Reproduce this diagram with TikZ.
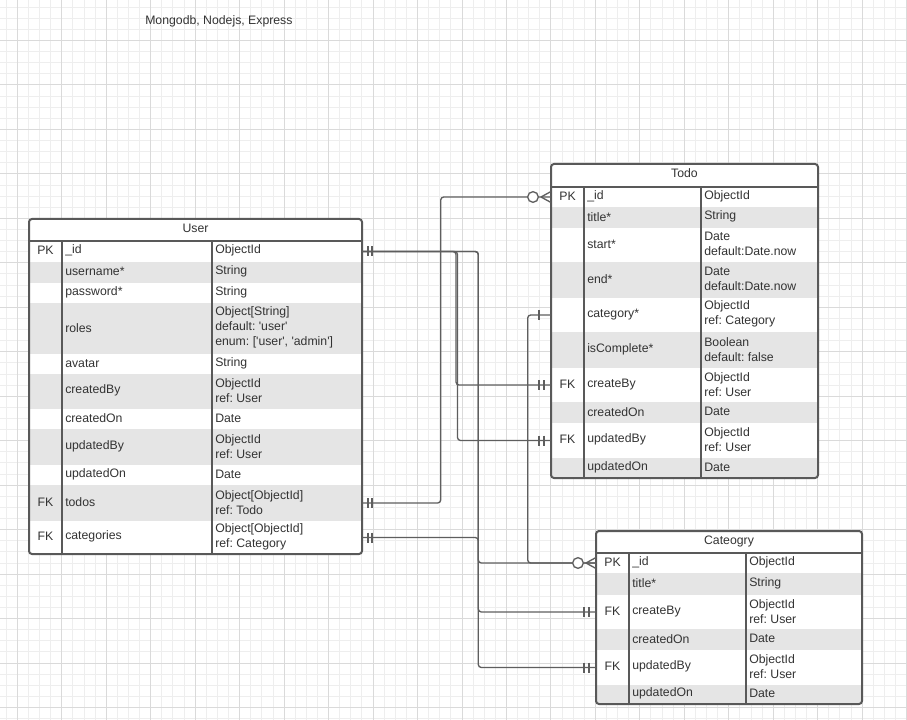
\documentclass[tikz,border=0pt]{standalone}
\usepackage{fontspec}
\setmainfont{Liberation Sans}
\frenchspacing
\usetikzlibrary{calc}

\definecolor{framegray}{HTML}{595959}
\definecolor{linkgray}{HTML}{5E5E5E}
\definecolor{rowgray}{HTML}{E5E5E5}
\definecolor{minorgrid}{HTML}{EEEEEE}
\definecolor{majorgrid}{HTML}{DADADA}
\definecolor{txtgray}{HTML}{333333}

\begin{document}
\begin{tikzpicture}[
    x=0.75pt, y=-0.75pt,
    minor grid/.style={minorgrid,line width=0.75pt},
    major grid/.style={majorgrid,line width=0.75pt},
    frame/.style={framegray,line width=1.5pt},
    row/.style={anchor=north west,inner sep=0pt,outer sep=0pt},
    cell/.style={anchor=west,inner sep=0pt,align=left,text=txtgray,yshift=0.6pt,
        font=\fontsize{9.2}{11.25}\selectfont},
    key cell/.style={cell,anchor=center},
    head/.style={cell,anchor=center},
    rel/.style={draw=linkgray,line width=1pt,rounded corners=2.25pt},
    bar/.style={linkgray,line width=1pt}
]
\useasboundingbox (0,0) rectangle (907,720);
\fill[white] (0,0) rectangle (907,720);

% Papel quadriculado
\foreach \i in {0,...,81}
    \draw[minor grid] ({6.2+11.117*\i},0) -- ++(0,720);
\foreach \j in {0,...,64}
    \draw[minor grid] (0,{7.15+11.117*\j}) -- ++(907,0);
\foreach \i in {0,...,20}
    \draw[major grid] ({17.3+44.47*\i},0) -- ++(0,720);
\foreach \j in {0,...,15}
    \draw[major grid] (0,{40.5+44.47*\j}) -- ++(907,0);

% Titulo
\node[cell] (stack) at (145,21.8) {Mongodb, Nodejs, Express};

% Tabela User
\begin{scope}
    \clip[rounded corners=2.25pt] (29,219) rectangle (362,554);
    \fill[white] (29,219) rectangle (362,554);
    \foreach \fkey/\ftop/\fbot/\fshade/\fpk/\fname/\ftype in {
        id/241/262/white/PK/\_id/ObjectId,
        username/262/283/rowgray//username*/String,
        password/283/303/white//password*/String,
        roles/303/354/rowgray//roles/{Object[String]\\default: \textquotesingle user\textquotesingle\\enum: [\textquotesingle user\textquotesingle, \textquotesingle admin\textquotesingle]},
        avatar/354/374/white//avatar/String,
        createdBy/374/409/rowgray//createdBy/ObjectId\\ref: User,
        createdOn/409/429/white//createdOn/Date,
        updatedBy/429/465/rowgray//updatedBy/ObjectId\\ref: User,
        updatedOn/465/485/white//updatedOn/Date,
        todos/485/521/rowgray/FK/todos/Object[ObjectId]\\ref: Todo,
        categories/521/554/white/FK/categories/Object[ObjectId]\\ref: Category}
    {
        \pgfmathsetmacro\fh{(\fbot-\ftop)*0.75}
        \node[row,fill=\fshade,minimum width=249.75pt,minimum height=\fh pt] (user-\fkey) at (29,\ftop) {};
        \node[key cell] (user-\fkey-pk) at ($(user-\fkey.west)+(16.5,0)$) {\fpk};
        \node[cell] (user-\fkey-name) at ($(user-\fkey.west)+(36,0)$) {\fname};
        \node[cell] (user-\fkey-type) at ($(user-\fkey.west)+(186,0)$) {\ftype};
    }
\end{scope}
\draw[frame,rounded corners=2.25pt] (29,219) rectangle (362,554);
\draw[frame] (29,241) -- (362,241) (62,241) -- (62,554) (212,241) -- (212,554);
\node[head] (user-head) at (195.5,229.1) {User};

% Tabela Todo
\begin{scope}
    \clip[rounded corners=2.25pt] (551,164) rectangle (818,478);
    \fill[white] (551,164) rectangle (818,478);
    \foreach \fkey/\ftop/\fbot/\fshade/\fpk/\fname/\ftype in {
        id/187/207/white/PK/\_id/ObjectId,
        title/207/228/rowgray//title*/String,
        start/228/262/white//start*/Date\\default:Date.now,
        end/262/298/rowgray//end*/Date\\default:Date.now,
        category/298/332/white//category*/ObjectId\\ref: Category,
        isComplete/332/368/rowgray//isComplete*/Boolean\\default: false,
        createBy/368/402/white/FK/createBy/ObjectId\\ref: User,
        createdOn/402/423/rowgray//createdOn/Date,
        updatedBy/423/458/white/FK/updatedBy/ObjectId\\ref: User,
        updatedOn/458/478/rowgray//updatedOn/Date}
    {
        \pgfmathsetmacro\fh{(\fbot-\ftop)*0.75}
        \node[row,fill=\fshade,minimum width=200.25pt,minimum height=\fh pt] (todo-\fkey) at (551,\ftop) {};
        \node[key cell] (todo-\fkey-pk) at ($(todo-\fkey.west)+(16.5,0)$) {\fpk};
        \node[cell] (todo-\fkey-name) at ($(todo-\fkey.west)+(36,0)$) {\fname};
        \node[cell] (todo-\fkey-type) at ($(todo-\fkey.west)+(153,0)$) {\ftype};
    }
\end{scope}
\draw[frame,rounded corners=2.25pt] (551,164) rectangle (818,478);
\draw[frame] (551,187) -- (818,187) (584,187) -- (584,478) (701,187) -- (701,478);
\node[head] (todo-head) at (684.5,173.8) {Todo};

% Tabela Cateogry
\begin{scope}
    \clip[rounded corners=2.25pt] (596,531) rectangle (862,704);
    \fill[white] (596,531) rectangle (862,704);
    \foreach \fkey/\ftop/\fbot/\fshade/\fpk/\fname/\ftype in {
        id/553/573/white/PK/\_id/ObjectId,
        title/573/595/rowgray//title*/String,
        createBy/595/629/white/FK/createBy/ObjectId\\ref: User,
        createdOn/629/650/rowgray//createdOn/Date,
        updatedBy/650/685/white/FK/updatedBy/ObjectId\\ref: User,
        updatedOn/685/704/rowgray//updatedOn/Date}
    {
        \pgfmathsetmacro\fh{(\fbot-\ftop)*0.75}
        \node[row,fill=\fshade,minimum width=199.5pt,minimum height=\fh pt] (cat-\fkey) at (596,\ftop) {};
        \node[key cell] (cat-\fkey-pk) at ($(cat-\fkey.west)+(16.5,0)$) {\fpk};
        \node[cell] (cat-\fkey-name) at ($(cat-\fkey.west)+(36,0)$) {\fname};
        \node[cell] (cat-\fkey-type) at ($(cat-\fkey.west)+(153,0)$) {\ftype};
    }
\end{scope}
\draw[frame,rounded corners=2.25pt] (596,531) rectangle (862,704);
\draw[frame] (596,553) -- (862,553) (629,553) -- (629,704) (746,553) -- (746,704);
\node[head] (cat-head) at (729,541.8) {Cateogry};

% Relacionamentos
\draw[rel] (user-todos.east) -- ++(78.7,0) |- (todo-id.west);
\draw[rel] (user-id.east) -- ++(94,0) |- (todo-createBy.west);
\draw[rel] (user-id.east) -- ++(95.5,0) |- (todo-updatedBy.west);
\draw[rel] (user-id.east) -- ++(116.3,0) |- (cat-createBy.west);
\draw[rel] (user-id.east) -- ++(116.3,0) |- (cat-updatedBy.west);
\draw[rel] (user-categories.east) -- ++(116.3,0) |- (cat-id.west);
\draw[rel] (todo-category.west) -- ++(-23.3,0) |- (cat-id.west);

% Cardinalidades: um e somente um
\foreach \n in {user-id,user-todos,user-categories}
    \draw[bar] ($(\n.east)+(6,-5)$) -- ++(0,10) ($(\n.east)+(10,-5)$) -- ++(0,10);
\foreach \n in {todo-createBy,todo-updatedBy,cat-createBy,cat-updatedBy}
    \draw[bar] ($(\n.west)+(-12,-5)$) -- ++(0,10) ($(\n.west)+(-7,-5)$) -- ++(0,10);
\draw[bar] ($(todo-category.west)+(-12,-5)$) -- ++(0,10);

% Cardinalidades: zero ou muitos
\foreach \n in {todo-id,cat-id} {
    \draw[bar,fill=white] ($(\n.west)+(-18,0)$) circle (4pt);
    \draw[bar] ($(\n.west)+(-10,0)$) -- ($(\n.west)+(0,-5.5)$)
        ($(\n.west)+(-10,0)$) -- ($(\n.west)+(0,5.5)$);
}

\end{tikzpicture}
\end{document}
